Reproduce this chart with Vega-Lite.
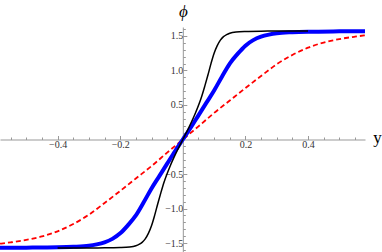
{
  "$schema": "https://vega.github.io/schema/vega-lite/v6.json",
  "width": 365,
  "height": 225,
  "autosize": {"type": "none"},
  "padding": {"left": 0, "top": 27, "right": 17, "bottom": 0},
  "background": "white",
  "config": {"view": {"stroke": null}},
  "data": {
    "values": [
      {"c": "black", "y": -0.4, "phi": -1.571},
      {"c": "black", "y": -0.3, "phi": -1.571},
      {"c": "black", "y": -0.25, "phi": -1.57},
      {"c": "black", "y": -0.2, "phi": -1.566},
      {"c": "black", "y": -0.17, "phi": -1.558},
      {"c": "black", "y": -0.15, "phi": -1.54},
      {"c": "black", "y": -0.14, "phi": -1.52},
      {"c": "black", "y": -0.13, "phi": -1.49},
      {"c": "black", "y": -0.12, "phi": -1.44},
      {"c": "black", "y": -0.11, "phi": -1.36},
      {"c": "black", "y": -0.1, "phi": -1.25},
      {"c": "black", "y": -0.09, "phi": -1.1},
      {"c": "black", "y": -0.08, "phi": -0.93},
      {"c": "black", "y": -0.07, "phi": -0.77},
      {"c": "black", "y": -0.06, "phi": -0.62},
      {"c": "black", "y": -0.04, "phi": -0.38},
      {"c": "black", "y": -0.02, "phi": -0.18},
      {"c": "black", "y": 0, "phi": 0},
      {"c": "black", "y": 0.02, "phi": 0.18},
      {"c": "black", "y": 0.04, "phi": 0.38},
      {"c": "black", "y": 0.06, "phi": 0.62},
      {"c": "black", "y": 0.07, "phi": 0.77},
      {"c": "black", "y": 0.08, "phi": 0.93},
      {"c": "black", "y": 0.09, "phi": 1.1},
      {"c": "black", "y": 0.1, "phi": 1.25},
      {"c": "black", "y": 0.11, "phi": 1.36},
      {"c": "black", "y": 0.12, "phi": 1.44},
      {"c": "black", "y": 0.13, "phi": 1.49},
      {"c": "black", "y": 0.14, "phi": 1.52},
      {"c": "black", "y": 0.15, "phi": 1.54},
      {"c": "black", "y": 0.17, "phi": 1.558},
      {"c": "black", "y": 0.2, "phi": 1.566},
      {"c": "black", "y": 0.25, "phi": 1.57},
      {"c": "black", "y": 0.3, "phi": 1.571},
      {"c": "black", "y": 0.4, "phi": 1.571},

      {"c": "blue", "y": -0.584, "phi": -1.569},
      {"c": "blue", "y": -0.5, "phi": -1.567},
      {"c": "blue", "y": -0.4, "phi": -1.562},
      {"c": "blue", "y": -0.35, "phi": -1.555},
      {"c": "blue", "y": -0.3, "phi": -1.54},
      {"c": "blue", "y": -0.275, "phi": -1.52},
      {"c": "blue", "y": -0.25, "phi": -1.49},
      {"c": "blue", "y": -0.225, "phi": -1.44},
      {"c": "blue", "y": -0.2, "phi": -1.36},
      {"c": "blue", "y": -0.175, "phi": -1.24},
      {"c": "blue", "y": -0.15, "phi": -1.1},
      {"c": "blue", "y": -0.125, "phi": -0.91},
      {"c": "blue", "y": -0.1, "phi": -0.71},
      {"c": "blue", "y": -0.075, "phi": -0.53},
      {"c": "blue", "y": -0.05, "phi": -0.35},
      {"c": "blue", "y": -0.025, "phi": -0.17},
      {"c": "blue", "y": 0, "phi": 0},
      {"c": "blue", "y": 0.025, "phi": 0.17},
      {"c": "blue", "y": 0.05, "phi": 0.35},
      {"c": "blue", "y": 0.075, "phi": 0.53},
      {"c": "blue", "y": 0.1, "phi": 0.71},
      {"c": "blue", "y": 0.125, "phi": 0.91},
      {"c": "blue", "y": 0.15, "phi": 1.1},
      {"c": "blue", "y": 0.175, "phi": 1.24},
      {"c": "blue", "y": 0.2, "phi": 1.36},
      {"c": "blue", "y": 0.225, "phi": 1.44},
      {"c": "blue", "y": 0.25, "phi": 1.49},
      {"c": "blue", "y": 0.275, "phi": 1.52},
      {"c": "blue", "y": 0.3, "phi": 1.54},
      {"c": "blue", "y": 0.35, "phi": 1.555},
      {"c": "blue", "y": 0.4, "phi": 1.562},
      {"c": "blue", "y": 0.5, "phi": 1.567},
      {"c": "blue", "y": 0.584, "phi": 1.569},

      {"c": "red", "y": -0.584, "phi": -1.51},
      {"c": "red", "y": -0.55, "phi": -1.49},
      {"c": "red", "y": -0.5, "phi": -1.455},
      {"c": "red", "y": -0.45, "phi": -1.405},
      {"c": "red", "y": -0.4, "phi": -1.33},
      {"c": "red", "y": -0.35, "phi": -1.225},
      {"c": "red", "y": -0.3, "phi": -1.09},
      {"c": "red", "y": -0.25, "phi": -0.92},
      {"c": "red", "y": -0.2, "phi": -0.745},
      {"c": "red", "y": -0.15, "phi": -0.565},
      {"c": "red", "y": -0.1, "phi": -0.385},
      {"c": "red", "y": -0.05, "phi": -0.19},
      {"c": "red", "y": 0, "phi": 0},
      {"c": "red", "y": 0.05, "phi": 0.19},
      {"c": "red", "y": 0.1, "phi": 0.385},
      {"c": "red", "y": 0.15, "phi": 0.565},
      {"c": "red", "y": 0.2, "phi": 0.745},
      {"c": "red", "y": 0.25, "phi": 0.92},
      {"c": "red", "y": 0.3, "phi": 1.09},
      {"c": "red", "y": 0.35, "phi": 1.225},
      {"c": "red", "y": 0.4, "phi": 1.33},
      {"c": "red", "y": 0.45, "phi": 1.405},
      {"c": "red", "y": 0.5, "phi": 1.455},
      {"c": "red", "y": 0.55, "phi": 1.49},
      {"c": "red", "y": 0.584, "phi": 1.51}
    ]
  },
  "encoding": {
    "x": {
      "field": "y",
      "type": "quantitative",
      "scale": {"domain": [-0.584, 0.582], "nice": false, "zero": false},
      "axis": {
        "title": "y",
        "titleFont": "Liberation Serif",
        "titleFontSize": 17,
        "titleFontWeight": "normal",
        "titleColor": "black",
        "titleAngle": 0,
        "titleX": 377,
        "titleY": 3,
        "titleAlign": "center",
        "titleBaseline": "alphabetic",
        "values": [-0.55, -0.5, -0.45, -0.4, -0.35, -0.3, -0.25, -0.2, -0.15, -0.1, -0.05, 0.05, 0.1, 0.15, 0.2, 0.25, 0.3, 0.35, 0.4, 0.45, 0.5, 0.55],
        "labelExpr": "abs(round(datum.value*20)) % 4 == 0 ? format(datum.value, '.1f') : ''",
        "tickSize": {"condition": {"test": "abs(round(datum.value*20)) % 4 == 0", "value": -4}, "value": -2.5},
        "offset": {"expr": "scale('y', 0) - height"},
        "grid": false,
        "domainColor": "#999999",
        "tickColor": "#999999",
        "labelFont": "Liberation Serif",
        "labelFontSize": 10,
        "labelColor": "#333333",
        "labelPadding": 4
      }
    },
    "y": {
      "field": "phi",
      "type": "quantitative",
      "scale": {"domain": [-1.63, 1.63], "nice": false, "zero": false},
      "axis": {
        "title": "ϕ",
        "titleFont": "Liberation Serif",
        "titleFontSize": 17,
        "titleFontStyle": "italic",
        "titleFontWeight": "normal",
        "titleColor": "black",
        "titleAngle": 0,
        "titleX": 0,
        "titleY": -16,
        "titleAlign": "center",
        "titleBaseline": "middle",
        "values": [-1.6, -1.5, -1.4, -1.3, -1.2, -1.1, -1.0, -0.9, -0.8, -0.7, -0.6, -0.5, -0.4, -0.3, -0.2, -0.1, 0.1, 0.2, 0.3, 0.4, 0.5, 0.6, 0.7, 0.8, 0.9, 1.0, 1.1, 1.2, 1.3, 1.4, 1.5, 1.6],
        "labelExpr": "abs(round(datum.value*10)) % 5 == 0 ? format(datum.value, '.1f') : ''",
        "tickSize": {"condition": {"test": "abs(round(datum.value*10)) % 5 == 0", "value": -4}, "value": -2.5},
        "offset": {"expr": "-scale('x', 0)"},
        "grid": false,
        "domainColor": "#999999",
        "tickColor": "#999999",
        "labelFont": "Liberation Serif",
        "labelFontSize": 10,
        "labelColor": "#333333",
        "labelPadding": 4
      }
    }
  },
  "layer": [
    {
      "transform": [{"filter": "datum.c == 'red'"}],
      "mark": {"type": "line", "color": "#ff0000", "strokeWidth": 1.8, "strokeDash": [5, 3], "interpolate": "monotone", "clip": true}
    },
    {
      "transform": [{"filter": "datum.c == 'blue'"}],
      "mark": {"type": "line", "color": "#0000ff", "strokeWidth": 4, "interpolate": "monotone", "clip": true}
    },
    {
      "transform": [{"filter": "datum.c == 'black'"}],
      "mark": {"type": "line", "color": "#000000", "strokeWidth": 1.5, "interpolate": "monotone", "clip": true}
    }
  ]
}
